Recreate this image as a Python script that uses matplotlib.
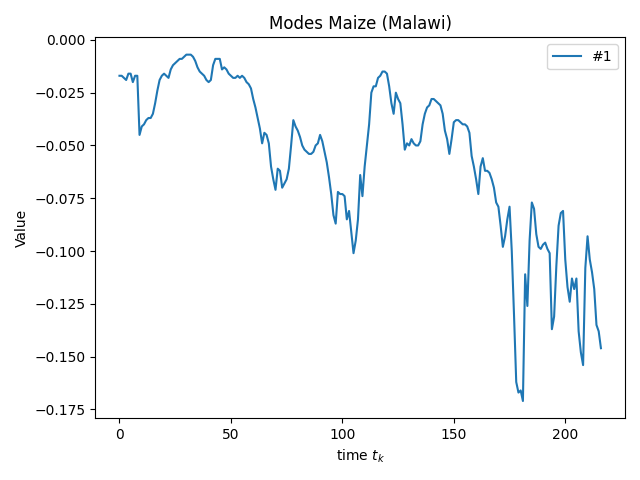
import matplotlib
matplotlib.use("Agg")
import matplotlib.pyplot as plt
import numpy as np

values = [
    -0.017, -0.017, -0.018, -0.019, -0.016, -0.016, -0.020, -0.017, -0.017, -0.045,
    -0.041, -0.040, -0.038, -0.037, -0.037, -0.035, -0.030, -0.024, -0.019, -0.017,
    -0.016, -0.017, -0.018, -0.014, -0.012, -0.011, -0.010, -0.009, -0.009, -0.008,
    -0.007, -0.007, -0.007, -0.008, -0.010, -0.013, -0.015, -0.016, -0.017, -0.019,
    -0.020, -0.019, -0.012, -0.009, -0.009, -0.009, -0.014, -0.013, -0.014, -0.016,
    -0.017, -0.018, -0.018, -0.017, -0.018, -0.017, -0.018, -0.020, -0.021, -0.023,
    -0.028, -0.032, -0.037, -0.042, -0.049, -0.044, -0.045, -0.049, -0.060, -0.066,
    -0.071, -0.061, -0.062, -0.070, -0.068, -0.066, -0.061, -0.050, -0.038, -0.041,
    -0.043, -0.046, -0.050, -0.052, -0.053, -0.054, -0.054, -0.053, -0.050, -0.049,
    -0.045, -0.048, -0.053, -0.058, -0.065, -0.073, -0.083, -0.087, -0.072, -0.073,
    -0.073, -0.074, -0.085, -0.081, -0.091, -0.101, -0.095, -0.085, -0.064, -0.074,
    -0.060, -0.050, -0.040, -0.025, -0.022, -0.022, -0.018, -0.017, -0.015, -0.015,
    -0.016, -0.022, -0.030, -0.035, -0.025, -0.028, -0.030, -0.040, -0.052, -0.049,
    -0.050, -0.047, -0.049, -0.050, -0.050, -0.048, -0.040, -0.035, -0.032, -0.031,
    -0.028, -0.028, -0.029, -0.030, -0.031, -0.035, -0.043, -0.047, -0.054, -0.047,
    -0.039, -0.038, -0.038, -0.039, -0.040, -0.040, -0.041, -0.044, -0.055, -0.060,
    -0.066, -0.073, -0.060, -0.056, -0.062, -0.062, -0.063, -0.066, -0.070, -0.077,
    -0.079, -0.088, -0.098, -0.093, -0.085, -0.079, -0.100, -0.130, -0.162, -0.167,
    -0.166, -0.171, -0.111, -0.126, -0.095, -0.077, -0.080, -0.092, -0.098, -0.099,
    -0.097, -0.096, -0.099, -0.101, -0.137, -0.131, -0.107, -0.088, -0.082, -0.081,
    -0.104, -0.117, -0.124, -0.113, -0.118, -0.113, -0.138, -0.148, -0.154, -0.108,
    -0.093, -0.104, -0.110, -0.118, -0.135, -0.138, -0.146,
]
t = np.arange(len(values))

fig, ax = plt.subplots(figsize=(6.4, 4.8), dpi=100)
ax.plot(t, values, label="#1")
ax.set_title("Modes Maize (Malawi)")
ax.set_xlabel("time $t_k$")
ax.set_ylabel("Value")
ax.legend()
fig.tight_layout()
fig.savefig("out.png")
